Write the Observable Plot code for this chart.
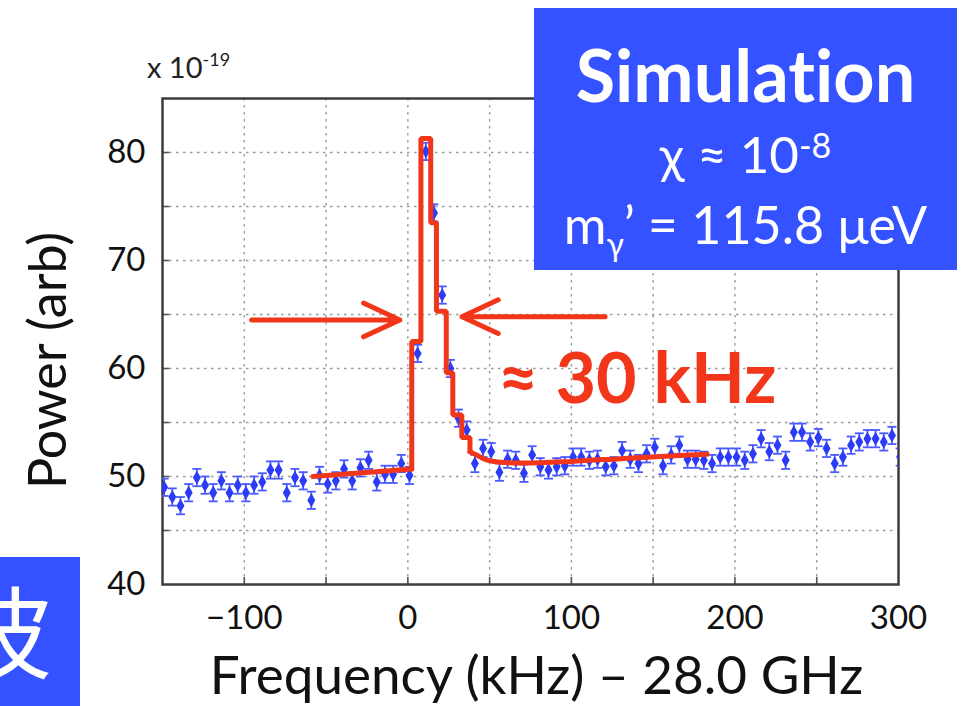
<!DOCTYPE html>
<html>
<head>
<meta charset="utf-8">
<script src="https://cdn.jsdelivr.net/npm/d3@7"></script>
<script src="https://cdn.jsdelivr.net/npm/@observablehq/plot@0.6"></script>
<style>
  html, body { margin: 0; padding: 0; background: #fff; overflow: hidden; }
  #wrap { position: relative; width: 965px; height: 706px; font-family: Lato, "Open Sans", sans-serif; }
  #wrap svg { position: absolute; left: 0; top: 0; }
  .ov { position: absolute; white-space: nowrap; line-height: 1; }
  .box { position: absolute; background: #3452ff; color: #fff; overflow: hidden; }
  .line { position: absolute; left: 0; width: 100%; text-align: center; white-space: nowrap; line-height: 1; font-family: Lato, "Noto Sans", sans-serif; font-variant-ligatures: none; }
</style>
</head>
<body>
<div id="wrap"></div>
<script>
// ---- data ----
const freq = [
  -149,-144,-139,-134,-129,-124,-119,-114,-109,-104,
  -99,-94,-89,-84,-79,-74,-69,-64,-59,-54,
  -49,-44,-39,-34,-29,-24,-19,-14,-9,-4,
  1,6,11,16,21,26,31,36,41,46,
  51,56,61,66,71,76,81,86,91,96,
  101,106,111,116,121,126,131,136,141,146,
  151,156,161,166,171,176,181,186,191,196,
  201,206,211,216,221,226,231,236,241,246,
  251,256,261,266,271,276,281,286,291,296,
  301
];
const power = [
  49.0,48.1,47.3,48.5,49.9,49.2,48.5,49.6,48.5,49.2,
  48.5,49.2,49.5,50.6,50.6,48.5,49.9,49.6,47.8,50.1,
  49.3,49.6,50.7,49.6,50.8,51.5,49.5,50.2,50.2,51.2,
  50.1,61.4,80.1,74.4,66.8,60.0,55.4,54.3,51.2,52.6,
  52.3,50.4,51.6,51.5,50.3,52.0,50.9,50.6,50.9,51.0,
  51.8,51.8,51.5,51.6,50.9,51.0,52.4,51.6,51.2,52.1,
  52.7,51.0,52.0,52.9,51.6,51.6,51.5,51.2,51.8,51.8,
  51.8,51.5,52.1,53.5,52.3,52.9,51.5,54.1,54.1,53.2,
  53.6,52.6,51.2,51.8,52.9,53.2,53.5,53.5,53.2,53.8,
  51.8
];
const errBar = 0.8;

// simulated signal (red)
const fitBaseF = [-58, 2.4];
const fitBaseP = [50.0, 50.7];
const fitStepF = [2.4, 2.4, 8, 14, 17.5, 23.5, 27.5, 33, 38];
const fitStepP = [50.7, 62.5, 81.3, 73.5, 65.3, 59.6, 55.7, 53.6, 52.3];
const fitTailF = [38, 42, 47, 55, 70, 100, 130, 160, 183];
const fitTailP = [52.3, 52.0, 51.6, 51.35, 51.25, 51.4, 51.65, 51.9, 52.05];

// annotation
const arrowFrom = [-95.5, 120.6];
const arrowTo = [-4.9, 33.1];
const arrowP = [64.5, 64.8];
const widthText = "≈ 30 kHz";
const widthTextF = 55;
const widthTextP = 58.9;

// axes
const xTicks = [-100, 0, 100, 200, 300];
const yTicks = [40, 50, 60, 70, 80];
const xGrid = [-100, -50, 0, 50, 100, 150, 200, 250];
const yGrid = [45, 50, 55, 60, 65, 70, 75, 80];
const xTitle = "Frequency (kHz) – 28.0 GHz";
const yTitle = "Power (arb)";

// ---- build ----
const points = freq.map((f, i) => ({f, p: power[i]}));
const base = fitBaseF.map((f, i) => ({f, p: fitBaseP[i]}));
const steps = fitStepF.map((f, i) => ({f, p: fitStepP[i]}));
const tail = fitTailF.map((f, i) => ({f, p: fitTailP[i]}));
const arrows = arrowFrom.map((f1, i) => ({f1, f2: arrowTo[i], p: arrowP[i]}));

const red = "#f2361a";
const blue = "#2c3cf6";
const blueErr = "#4a5aff";
const gridStyle = {stroke: "#9a9a9a", strokeOpacity: 1, strokeWidth: 1.4, strokeDasharray: "2.5,4.5"};
const cap = {draw(ctx, size) { const w = Math.sqrt(size / Math.PI); ctx.moveTo(-w, 0); ctx.lineTo(w, 0); }};

const svg = Plot.plot({
  width: 965,
  height: 706,
  marginLeft: 162,
  marginRight: 67,
  marginTop: 98,
  marginBottom: 122,
  style: {fontFamily: "Lato, 'Open Sans', sans-serif", background: "#fff", color: "#111", overflow: "visible"},
  x: {domain: [-150, 300]},
  y: {domain: [40, 85]},
  marks: [
    Plot.gridX(xGrid, gridStyle),
    Plot.gridY(yGrid, gridStyle),
    Plot.axisX(xGrid, {tickSize: -7, tickFormat: () => "", stroke: "#555", strokeWidth: 1.6, label: null}),
    Plot.axisY(yGrid, {tickSize: -7, tickFormat: () => "", stroke: "#555", strokeWidth: 1.6, label: null}),
    Plot.axisX(xTicks, {tickSize: 0, tickPadding: 21, fontSize: 33, label: null}),
    Plot.axisY(yTicks, {tickSize: 0, tickPadding: 17, fontSize: 33, label: null}),
    Plot.frame({stroke: "#3d3d3d", strokeWidth: 2.5}),
    Plot.ruleX(points, {x: "f", y1: d => d.p - errBar, y2: d => d.p + errBar, stroke: blueErr, strokeWidth: 1.8, clip: true}),
    Plot.dot(points, {x: "f", y: d => d.p + errBar, symbol: cap, r: 4.5, stroke: blueErr, strokeWidth: 1.8, fill: "none", clip: true}),
    Plot.dot(points, {x: "f", y: d => d.p - errBar, symbol: cap, r: 4.5, stroke: blueErr, strokeWidth: 1.8, fill: "none", clip: true}),
    Plot.dot(points, {x: "f", y: "p", symbol: "diamond", r: 4.2, fill: blue, stroke: "none", clip: true}),
    Plot.line(base, {x: "f", y: "p", stroke: red, strokeWidth: 5}),
    Plot.line(steps, {x: "f", y: "p", stroke: red, strokeWidth: 5, curve: "step-after", strokeLinejoin: "miter"}),
    Plot.line(tail, {x: "f", y: "p", stroke: red, strokeWidth: 5, curve: "monotone-x"}),
    Plot.arrow(arrows, {x1: "f1", x2: "f2", y1: "p", y2: "p", stroke: red, strokeWidth: 5, headLength: 12, headAngle: 50}),
    Plot.text([widthText], {x: () => widthTextF, y: () => widthTextP, text: d => d, fill: red, fontSize: 70, fontWeight: "bold", textAnchor: "start"}),
    Plot.text([yTitle], {text: d => d, frameAnchor: "left", textAnchor: "middle", lineAnchor: "middle", dx: -113, dy: 19, rotate: -90, fontSize: 52, fill: "#111"}),
    Plot.text([xTitle], {text: d => d, frameAnchor: "bottom", textAnchor: "middle", lineAnchor: "middle", dx: 6, dy: 93, fontSize: 53, fill: "#111"})
  ]
});

const wrap = document.getElementById("wrap");
wrap.appendChild(svg);

// exponent label
const exp = document.createElement("div");
exp.className = "ov";
exp.style.cssText = "left:147px;top:52px;font-size:29px;color:#222;";
exp.innerHTML = 'x 10<span style="display:inline-block;font-size:18px;transform:translateY(-12px)">-19</span>';
wrap.appendChild(exp);

// simulation box
const sim = document.createElement("div");
sim.className = "box";
sim.style.cssText += "left:534px;top:8px;width:423px;height:262px;";
sim.innerHTML =
  '<div class="line" style="top:30px;font-size:72px;font-weight:bold;">Simulation</div>' +
  '<div class="line" style="top:120px;font-size:51px;">χ ≈ 10<span style="display:inline-block;font-size:34px;transform:translateY(-15px)">-8</span></div>' +
  '<div class="line" style="top:190px;font-size:52px;">m<span style="display:inline-block;font-size:32px;transform:translateY(12px)">γ</span>’ = 115.8 μeV</div>';
wrap.appendChild(sim);

// cropped side label
const side = document.createElement("div");
side.className = "box";
side.style.cssText += "left:0px;top:557px;width:80px;height:149px;";
side.innerHTML = '<span style="position:absolute;left:-48px;top:21px;font-size:100px;line-height:1;font-family:\'Noto Sans CJK JP\',sans-serif;color:#fff;">波</span>';
wrap.appendChild(side);
</script>
</body>
</html>
